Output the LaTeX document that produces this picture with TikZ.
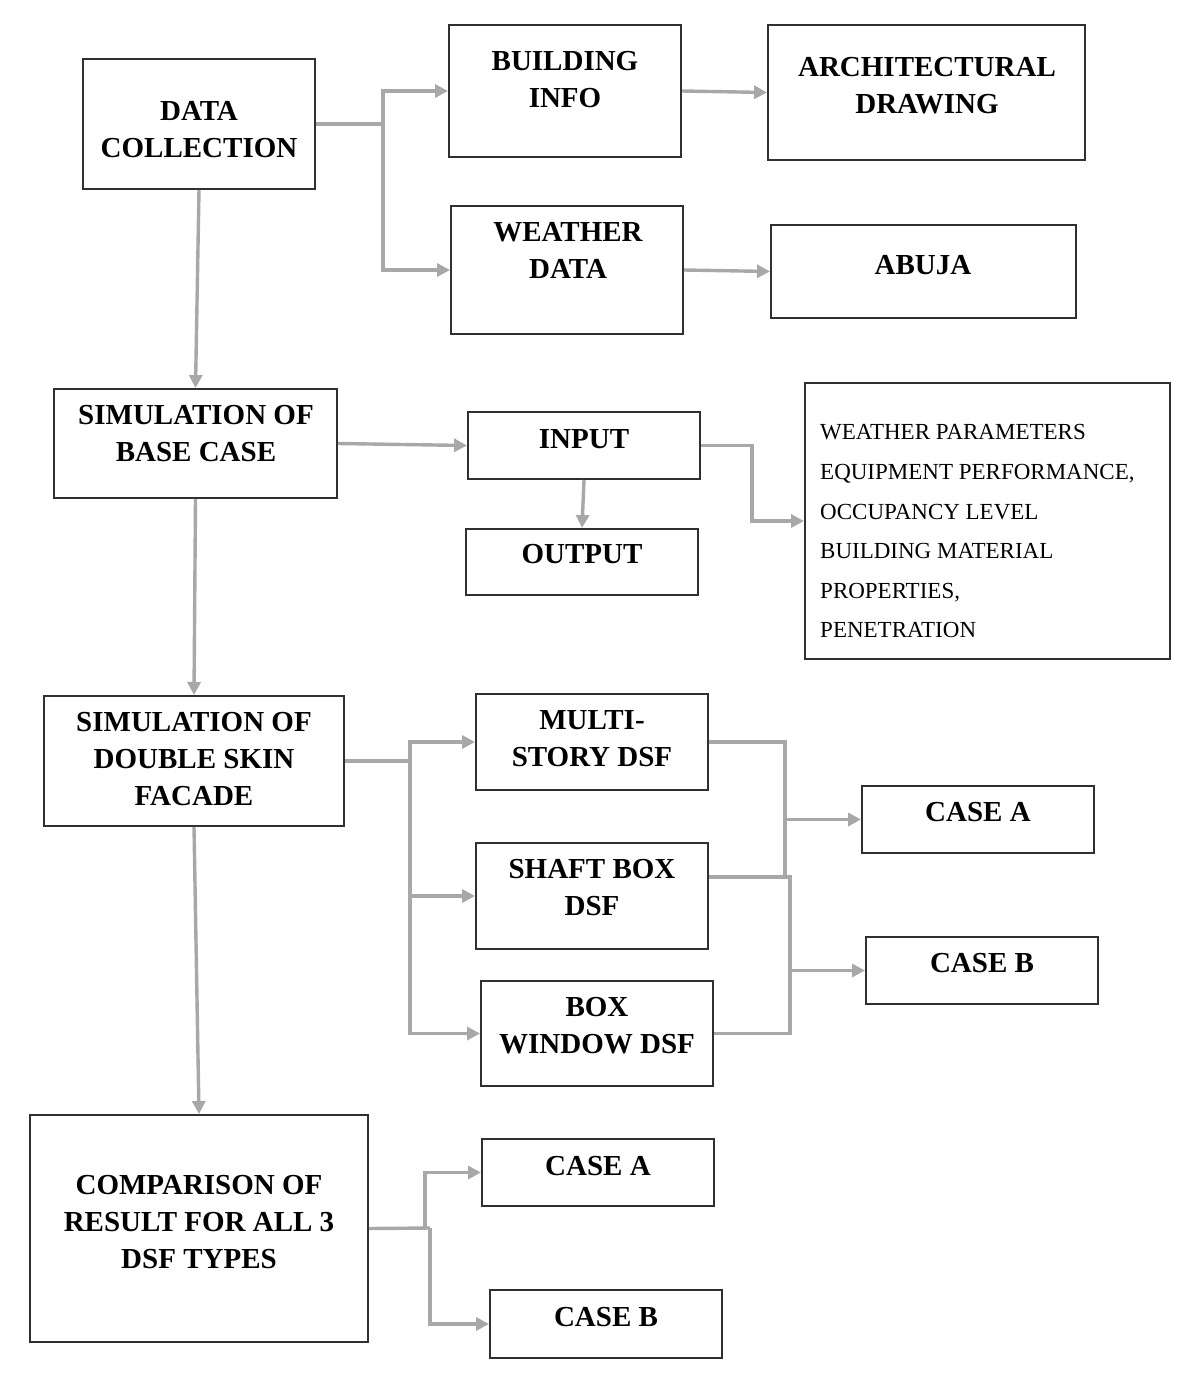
\documentclass[tikz,border=0pt]{standalone}
\usepackage{fontspec}
\setmainfont{Liberation Serif}
\usetikzlibrary{arrows.meta}
\definecolor{conncol}{HTML}{A8A8A8}
\definecolor{boxcol}{HTML}{303030}
\tikzset{
  bx/.style={draw=boxcol, line width=2pt, rectangle, inner sep=0pt},
  ttl/.style={anchor=north, inner sep=0pt, align=center, font=\fontsize{29pt}{37pt}\selectfont\bfseries},
  ln/.style={draw=conncol, line width=3.4pt},
  arr/.style={ln, -{Triangle[length=13pt,width=13pt]}},
}
\begin{document}
\begin{tikzpicture}[x=1pt,y=-1pt]
\useasboundingbox[fill=white] (0,0) rectangle (1200,1383);

% boxes (center, size)
\node[bx, minimum width=232pt, minimum height=130pt] (dc) at (199,124) {};
\node[bx, minimum width=232pt, minimum height=132pt] (bi) at (565,91) {};
\node[bx, minimum width=317pt, minimum height=135pt] (ad) at (926.5,92.5) {};
\node[bx, minimum width=232pt, minimum height=128pt] (wd) at (567,270) {};
\node[bx, minimum width=305pt, minimum height=93pt] (ab) at (923.5,271.5) {};
\node[bx, minimum width=283pt, minimum height=109pt] (sb) at (195.5,443.5) {};
\node[bx, minimum width=232pt, minimum height=67pt] (in) at (584,445.5) {};
\node[bx, minimum width=232pt, minimum height=66pt] (out) at (582,562) {};
\node[bx, minimum width=365pt, minimum height=276pt] (pp) at (987.5,521) {};
\node[bx, minimum width=300pt, minimum height=130pt] (sd) at (194,761) {};
\node[bx, minimum width=232pt, minimum height=96pt] (ms) at (592,742) {};
\node[bx, minimum width=232pt, minimum height=106pt] (sh) at (592,896) {};
\node[bx, minimum width=232pt, minimum height=105pt] (bw) at (597,1033.5) {};
\node[bx, minimum width=232pt, minimum height=67pt] (ca) at (978,819.5) {};
\node[bx, minimum width=232pt, minimum height=67pt] (cb) at (982,970.5) {};
\node[bx, minimum width=338pt, minimum height=227pt] (cp) at (199,1228.5) {};
\node[bx, minimum width=232pt, minimum height=67pt] (ca2) at (598,1172.5) {};
\node[bx, minimum width=232pt, minimum height=68pt] (cb2) at (606,1324) {};

% texts
\node[ttl] (tdc) at (199,101) {DATA\\COLLECTION};
\node[ttl] (tbi) at (565,51) {BUILDING\\INFO};
\node[ttl] (tad) at (927,57) {ARCHITECTURAL\\DRAWING};
\node[ttl] (twd) at (568,222) {WEATHER\\DATA};
\node[ttl] (tab) at (923,255) {ABUJA};
\node[ttl] (tsb) at (196,405) {SIMULATION OF\\BASE CASE};
\node[ttl] (tin) at (584,429) {INPUT};
\node[ttl] (tout) at (582,544) {OUTPUT};
\node[anchor=north west, inner sep=0pt, align=left, font=\fontsize{23pt}{39.6pt}\selectfont] (tpp) at (820,424.5)
  {WEATHER PARAMETERS\\EQUIPMENT PERFORMANCE,\\OCCUPANCY LEVEL\\BUILDING MATERIAL\\PROPERTIES,\\PENETRATION};
\node[ttl] (tsd) at (194,712) {SIMULATION OF\\DOUBLE SKIN\\FACADE};
\node[ttl] (tms) at (592,710) {MULTI-\\STORY DSF};
\node[ttl] (tsh) at (592,859) {SHAFT BOX\\DSF};
\node[ttl] (tbw) at (597,997) {BOX\\WINDOW DSF};
\node[ttl] (tca) at (978,802) {CASE A};
\node[ttl] (tcb) at (982,953) {CASE B};
\node[ttl] (tcp) at (199,1175) {COMPARISON OF\\RESULT FOR ALL 3\\DSF TYPES};
\node[ttl] (tca2) at (598,1156) {CASE A};
\node[ttl] (tcb2) at (606,1307) {CASE B};

% junction coordinates
\coordinate (j1) at (383,125);
\coordinate (j2) at (752,446);
\coordinate (j3) at (410,761);
\coordinate (k1) at (785,877);
\coordinate (k2) at (790,877);
\coordinate (m1) at (425,1228);
\coordinate (m2) at (430,1228);

% connectors
\draw[ln] (dc.east) -- (dc.east -| j1);
\draw[arr] (dc.east -| j1) |- (bi.west);
\draw[arr] (dc.east -| j1) |- (wd.west);
\draw[arr] (bi.east) -- (ad.west);
\draw[arr] (wd.east) -- (ab.west);
\draw[arr] (dc.south) -- (sb.north);
\draw[arr] (sb.east) -- (in.west);
\draw[arr] (in.south) -- (out.north);
\draw[arr] (in.east) -- (in.east -| j2) |- (pp.west);
\draw[arr] (sb.south) -- (sd.north);
\draw[ln] (sd.east) -- (sd.east -| j3);
\draw[arr] (sd.east -| j3) |- (ms.west);
\draw[arr] (sd.east -| j3) |- (sh.west);
\draw[arr] (sd.east -| j3) |- (bw.west);
\draw[ln] (ms.east) -| (k1);
\draw[arr] (k1 |- ca.west) -- (ca.west);
\draw[ln] (sh.east |- k2) -- (k2) |- (bw.east);
\draw[arr] (k2 |- cb.west) -- (cb.west);
\draw[arr] (sd.south) -- (cp.north);
\draw[ln] (cp.east) -- (m2);
\draw[arr] (cp.east -| m1) |- (ca2.west);
\draw[arr] (m2) |- (cb2.west);
\end{tikzpicture}
\end{document}
